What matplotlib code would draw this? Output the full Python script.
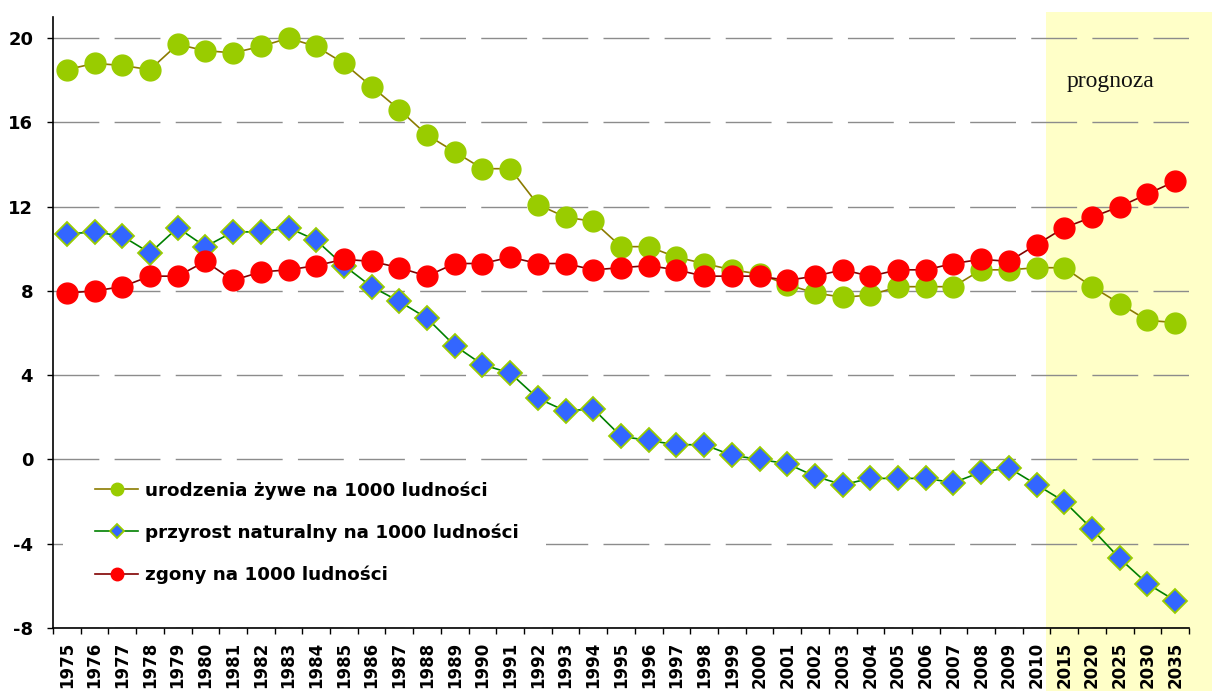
import matplotlib
matplotlib.use('Agg')
import matplotlib.pyplot as plt
from matplotlib.patches import Rectangle

plt.rcParams['lines.scale_dashes'] = False
plt.rcParams['font.family'] = ['DejaVu Sans']

years = ['1975', '1976', '1977', '1978', '1979', '1980', '1981', '1982', '1983', '1984',
         '1985', '1986', '1987', '1988', '1989', '1990', '1991', '1992', '1993', '1994',
         '1995', '1996', '1997', '1998', '1999', '2000', '2001', '2002', '2003', '2004',
         '2005', '2006', '2007', '2008', '2009', '2010', '2015', '2020', '2025', '2030', '2035']

births = [18.5, 18.8, 18.7, 18.5, 19.7, 19.4, 19.3, 19.6, 20.0, 19.6,
          18.8, 17.7, 16.6, 15.4, 14.6, 13.8, 13.8, 12.1, 11.5, 11.3,
          10.1, 10.1, 9.6, 9.3, 9.0, 8.8, 8.3, 7.9, 7.7, 7.8,
          8.2, 8.2, 8.2, 9.0, 9.0, 9.1, 9.1, 8.2, 7.4, 6.6, 6.5]

natural = [10.7, 10.8, 10.6, 9.8, 11.0, 10.1, 10.8, 10.8, 11.0, 10.4,
           9.2, 8.2, 7.5, 6.7, 5.4, 4.5, 4.1, 2.9, 2.3, 2.4,
           1.1, 0.9, 0.7, 0.7, 0.2, 0.0, -0.2, -0.8, -1.2, -0.9,
           -0.9, -0.9, -1.1, -0.6, -0.4, -1.2, -2.0, -3.3, -4.7, -5.9, -6.7]

deaths = [7.9, 8.0, 8.2, 8.7, 8.7, 9.4, 8.5, 8.9, 9.0, 9.2,
          9.5, 9.4, 9.1, 8.7, 9.3, 9.3, 9.6, 9.3, 9.3, 9.0,
          9.1, 9.2, 9.0, 8.7, 8.7, 8.7, 8.5, 8.7, 9.0, 8.7,
          9.0, 9.0, 9.3, 9.5, 9.4, 10.2, 11.0, 11.5, 12.0, 12.6, 13.2]

labels = ['urodzenia żywe na 1000 ludności',
          'przyrost naturalny na 1000 ludności',
          'zgony na 1000 ludności']
yticks = [-8, -4, 0, 4, 8, 12, 16, 20]

W, H = 1212, 691
fig = plt.figure(figsize=(W / 100, H / 100), dpi=100)
fig.patch.set_facecolor('white')

# forecast band (figure level)
fig.patches.append(Rectangle((1046 / W, 0), (W - 1046) / W, (H - 12) / H,
                             transform=fig.transFigure, facecolor='#FFFFC8',
                             edgecolor='none', zorder=-1))

ax = fig.add_axes([53 / W, (H - 628) / H, 1136 / W, (628 - 17) / H])
ax.set_facecolor('none')

x = list(range(len(years)))
l1, = ax.plot(x, births, color='#8B7B00', linewidth=1.2, marker='o', markersize=15,
              markerfacecolor='#99CC00', markeredgecolor='#99CC00', zorder=3, label=labels[0])
l2, = ax.plot(x, natural, color='#008000', linewidth=1.2, marker='D', markersize=12,
              markerfacecolor='#3366FF', markeredgecolor='#99CC00', markeredgewidth=1.3,
              zorder=4, label=labels[1])
l3, = ax.plot(x, deaths, color='#800000', linewidth=1.2, marker='o', markersize=15,
              markerfacecolor='#FF0000', markeredgecolor='#FF0000', zorder=5, label=labels[2])

ax.set_xlim(-0.5, len(years) - 0.5)
ax.set_ylim(-8, 21)

ax.set_yticks(yticks)
ax.set_yticklabels([str(v) for v in yticks], fontsize=13, fontweight='bold')
ax.tick_params(axis='y', direction='out', length=4.3, width=1, pad=10)
ax.yaxis.grid(True, color='#8C8C8C', linewidth=1.0, linestyle=(0, (33, 11)))
ax.set_axisbelow(True)

ax.set_xticks([i - 0.5 for i in range(len(years) + 1)])
ax.set_xticklabels([])
ax.set_xticks(x, minor=True)
ax.set_xticklabels(years, minor=True, rotation=90, fontsize=12, fontweight='bold',
                   va='top')
ax.tick_params(axis='x', which='major', direction='out', length=4.3, width=1)
ax.tick_params(axis='x', which='minor', length=0, pad=10)

for s in ['top', 'right']:
    ax.spines[s].set_visible(False)
for s in ['left', 'bottom']:
    ax.spines[s].set_linewidth(1.2)
    ax.spines[s].set_color('black')

# white legend background box
ax.add_patch(Rectangle(((63 - 53) / 1136, (628 - 600) / 611), (546 - 63) / 1136,
                       (600 - 468) / 611, transform=ax.transAxes,
                       facecolor='white', edgecolor='none', zorder=2))

leg = ax.legend(handles=[l1, l2, l3], loc='upper left',
                bbox_to_anchor=((95 - 53) / 1136, (628 - 481) / 611),
                frameon=False, borderpad=0, borderaxespad=0,
                handlelength=2.35, handletextpad=0.38, labelspacing=1.3,
                markerscale=0.6, prop={'size': 13.2, 'weight': 'bold'})
leg.set_zorder(6)

ax.text((1067 - 53) / 1136, (628 - 82) / 611, 'prognoza', transform=ax.transAxes,
        fontsize=17, family='Liberation Serif', ha='left', va='center', color='#111111')

fig.savefig('out.png', dpi=100)
